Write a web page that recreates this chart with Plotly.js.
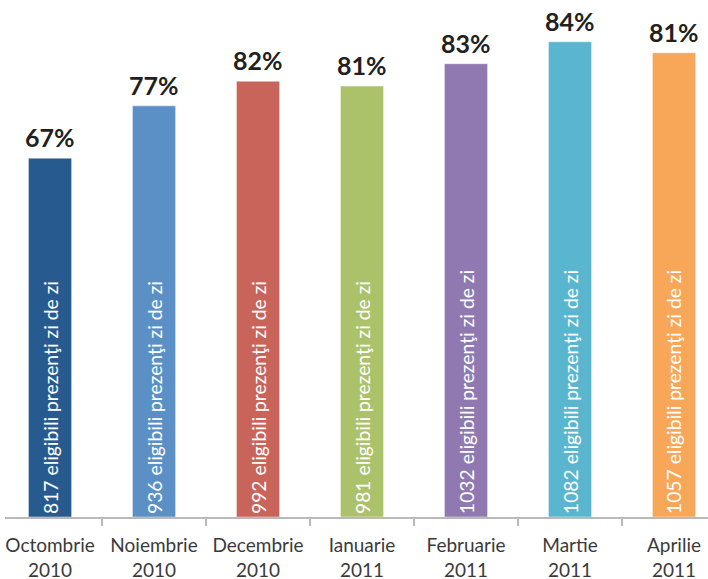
<!DOCTYPE html>
<html>
<head>
<meta charset="utf-8">
<script src="https://cdn.plot.ly/plotly-3.0.1.min.js"></script>
<style>html,body{margin:0;padding:0;background:#fff;}#chart{width:708px;height:579px;}</style>
</head>
<body>
<div id="chart"></div>
<script>
var months = ["Octombrie<br>2010","Noiembrie<br>2010","Decembrie<br>2010","Ianuarie<br>2011","Februarie<br>2011","Martie<br>2011","Aprilie<br>2011"];
var eligible = [817, 936, 992, 981, 1032, 1082, 1057];
var percents = ["67%","77%","82%","81%","83%","84%","81%"];
var colors = ["#275b8f","#5a90c6","#c9645b","#acc26a","#8f79b0","#5ab6ce","#f8a658"];

var insideText = eligible.map(function(v){ return v + " eligibili prezenţi zi de zi"; });

var trace = {
  type: "bar",
  x: months,
  y: eligible,
  text: insideText,
  textposition: "inside",
  insidetextanchor: "start",
  textangle: -90,
  insidetextfont: {family: "Lato, 'Open Sans', sans-serif", size: 19.3, color: "#ffffff"},
  marker: {color: colors, line: {color: "rgba(255,255,255,0.45)", width: 1}},
  hoverinfo: "none",
  cliponaxis: false
};

var annotations = months.map(function(m, i){
  return {
    x: m, y: eligible[i], xref: "x", yref: "y",
    text: "<b>" + percents[i] + "</b>",
    showarrow: false, yanchor: "bottom", yshift: 4,
    font: {family: "Lato, 'Open Sans', sans-serif", size: 25, color: "#231f20"}
  };
});

var layout = {
  width: 708, height: 579,
  margin: {l: 5, r: 0, t: 0, b: 62},
  paper_bgcolor: "#ffffff", plot_bgcolor: "#ffffff",
  showlegend: false,
  bargap: 0.585,
  xaxis: {
    type: "category",
    range: [-0.433, 6.327],
    showline: true, linecolor: "#b9b9b9", linewidth: 2,
    ticks: "outside", tickson: "boundaries", ticklen: 7, tickcolor: "#b9b9b9", tickwidth: 1.5,
    tickangle: 0, ticklabelstandoff: 10,
    tickfont: {family: "Lato, 'Open Sans', sans-serif", size: 19, color: "#3a3a3a"},
    showgrid: false, zeroline: false, fixedrange: true
  },
  yaxis: {
    range: [0, 1177],
    visible: false, showgrid: false, zeroline: false, fixedrange: true
  },
  annotations: annotations
};

Plotly.newPlot("chart", [trace], layout, {displayModeBar: false, staticPlot: true});
</script>
</body>
</html>
